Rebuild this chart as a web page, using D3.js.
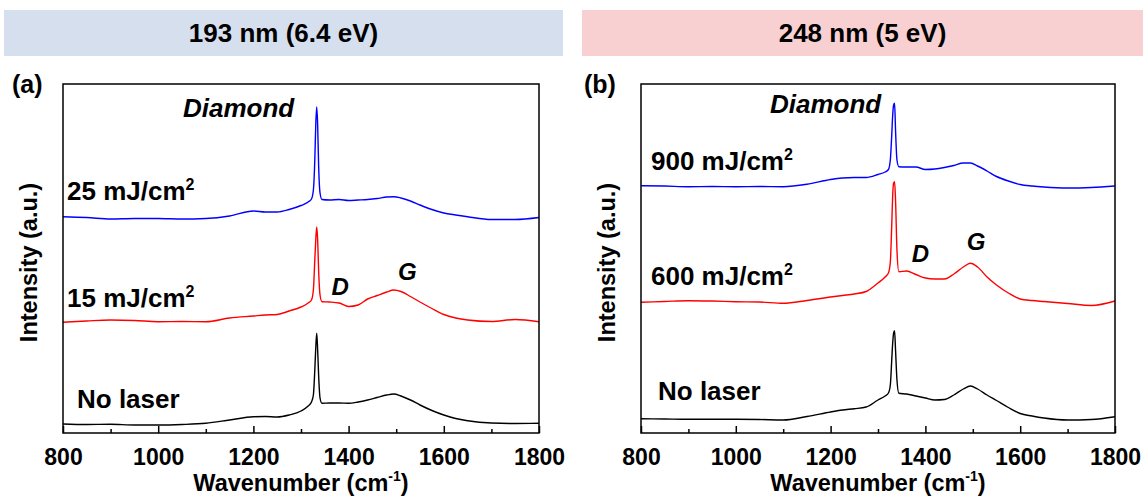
<!DOCTYPE html>
<html><head><meta charset="utf-8">
<script src="https://cdn.jsdelivr.net/npm/d3@7"></script>
<style>
html,body{margin:0;padding:0;background:#fff;}
svg text{font-family:"Liberation Sans",Arial,sans-serif;font-weight:bold;fill:#000;}
</style></head>
<body><svg id="c" width="1145" height="502"></svg>
<script>
// ---------- DATA ----------
const wavenumbers = [800,850,900,950,1000,1050,1100,1150,1200,1225,1250,1275,1300,1315,1322,1326,1329,1331,1333,1335,1337,1340,1344,1360,1380,1400,1420,1440,1460,1480,1495,1510,1530,1550,1575,1600,1625,1650,1700,1750,1800];
// Panel (a) 193 nm
const a_25mJ  = [216.3,215.5,214,214.5,214.5,214,214.5,217,222,221,221,223.5,227.5,231,234,243,273,308,326,308,268,240,233.5,233,233.5,232.5,233,233.5,234.5,236,236.3,235,232,228,223.5,220,218,216.3,213.5,213.5,215.5];
const a_15mJ  = [110.7,112,113,112.5,111.3,111.5,111.3,115,117,118,118.5,122,126,130,133,143,173,193,206,193,163,138,131.3,131,130,126.5,128,134,137.5,141,143,141.5,136.5,131,124.5,118.5,115,113,111.5,113.5,111.3];
const a_none  = [9,8.5,8.7,8,8,8.5,9.7,13,16.3,16.5,16,18,22,27,31,38,63,85,99.7,83,58,35,29.7,30,30,29.7,31,33,35.5,38,39,37,33,28,22.5,18,14.5,12.3,10,9.5,9.7];
// Panel (b) 248 nm
const b_900mJ = [247.3,247,246.3,246.5,246.3,246.5,246.3,248.7,253.5,255,255.5,255.5,258.5,261,263.5,273,298,318,328,329.7,303,273,266.3,266,266,263.5,264,265.5,267.5,270,270,267,262,256.5,252,248.5,247,246,245,245.5,247];
const b_600mJ = [130.7,131.5,132.3,132,131.3,131,129.7,132.5,136,137.5,139,141.5,150,156,160,171,208,238,250,251.3,233,183,161.3,162,158.5,155,154,154,159,166,169.7,166,156,148,140,134,132.5,131.5,129.5,127.5,132];
const b_none  = [14.3,14,13.7,13.7,13.7,13.5,13,16.5,21,23,24.3,26,33,37,40,48,73,90,100,102.3,83,53,39.7,39,37,35,33,33.5,38,44,47,44,38,32.5,25.5,19.5,17,15,13,13.5,16.3];
const xTicks = [800,1000,1200,1400,1600,1800];
const xMinorTicks = [900,1100,1300,1500,1700];
const panelTitles = ["193 nm (6.4 eV)", "248 nm (5 eV)"];
const panelLetters = ["(a)", "(b)"];
const seriesColors = ["#0000ff","#ff0000","#000000"];

const panels = [
  {title: panelTitles[0], letter: panelLetters[0], band:[4,563], bandColor:"#d5dfee",
   x0:63, x1:539, letterX:12,
   series:[a_25mJ,a_15mJ,a_none],
   labels:[{t:"25 mJ/cm",sup:"2",x:67,y:200},{t:"15 mJ/cm",sup:"2",x:67,y:306.7},{t:"No laser",x:77,y:408}],
   diamond:[1052,316], D:[1364,138], G:[1504,153], ytitleX:37},
  {title: panelTitles[1], letter: panelLetters[1], band:[582,1143], bandColor:"#f8d0d2",
   x0:641, x1:1115, letterX:584,
   series:[b_900mJ,b_600mJ,b_none],
   labels:[{t:"900 mJ/cm",sup:"2",x:651,y:170},{t:"600 mJ/cm",sup:"2",x:651,y:285},{t:"No laser",x:658,y:400}],
   diamond:[1072,320], D:[1371,171], G:[1487,183], ytitleX:615}
];

const svg = d3.select("#c");
const yTop = 84, yBot = 433;

panels.forEach(p => {
  // header band
  svg.append("rect").attr("x",p.band[0]).attr("y",10).attr("width",p.band[1]-p.band[0]).attr("height",46).attr("fill",p.bandColor);
  svg.append("text").attr("x",(p.band[0]+p.band[1])/2).attr("y",42).attr("text-anchor","middle").attr("font-size",26).text(p.title);

  const x = d3.scaleLinear().domain([800,1800]).range([p.x0,p.x1]);
  const y = d3.scaleLinear().domain([0,349]).range([yBot,yTop]);
  const g = svg.append("g");

  // lines
  const line = d3.line().x((d,i)=>x(wavenumbers[i])).y(d=>y(d)).curve(d3.curveMonotoneX);
  p.series.forEach((s,k)=>{
    g.append("path").datum(s).attr("fill","none").attr("stroke",seriesColors[k]).attr("stroke-width",1.4).attr("d",line);
  });

  // frame
  g.append("rect").attr("x",p.x0).attr("y",yTop).attr("width",p.x1-p.x0).attr("height",yBot-yTop)
    .attr("fill","none").attr("stroke","#000").attr("stroke-width",1.5);

  // bottom axis (inward ticks)
  const ax = g.append("g").attr("transform",`translate(0,${yBot})`)
    .call(d3.axisBottom(x).tickValues(xTicks).tickSize(-7).tickPadding(10).tickFormat(d3.format("d")));
  ax.select(".domain").remove();
  ax.selectAll(".tick line").attr("stroke","#000").attr("stroke-width",1.5);
  ax.selectAll(".tick text").attr("font-size",23).attr("font-family","Liberation Sans, Arial, sans-serif").attr("font-weight","bold").attr("dy","0.95em");
  const axm = g.append("g").attr("transform",`translate(0,${yBot})`)
    .call(d3.axisBottom(x).tickValues(xMinorTicks).tickSize(-4).tickFormat(""));
  axm.select(".domain").remove();
  axm.selectAll(".tick line").attr("stroke","#000").attr("stroke-width",1.5);

  // x title
  const xt = g.append("text").attr("x",(p.x0+p.x1)/2).attr("y",491).attr("text-anchor","middle").attr("font-size",23.5);
  xt.append("tspan").text("Wavenumber (cm");
  xt.append("tspan").attr("font-size",14).attr("dy",-10).text("-1");
  xt.append("tspan").attr("dy",10).text(")");

  // y title
  g.append("text").attr("transform",`translate(${p.ytitleX},${(yTop+yBot)/2+4}) rotate(-90)`).attr("text-anchor","middle").attr("font-size",23.5).text("Intensity (a.u.)");

  // panel letter
  svg.append("text").attr("x",p.letterX).attr("y",93).attr("font-size",25).text(p.letter);

  // series labels
  p.labels.forEach(l=>{
    const t = g.append("text").attr("x",l.x).attr("y",l.y).attr("font-size",26);
    t.append("tspan").text(l.t);
    if(l.sup){ t.append("tspan").attr("font-size",16).attr("dy",-10).text(l.sup); }
  });

  // peak annotations
  g.append("text").attr("x",x(p.diamond[0])).attr("y",y(p.diamond[1])).attr("font-size",26).attr("font-style","italic").text("Diamond");
  g.append("text").attr("x",x(p.D[0])).attr("y",y(p.D[1])).attr("font-size",24).attr("font-style","italic").text("D");
  g.append("text").attr("x",x(p.G[0])).attr("y",y(p.G[1])).attr("font-size",24).attr("font-style","italic").text("G");
});
</script></body></html>
